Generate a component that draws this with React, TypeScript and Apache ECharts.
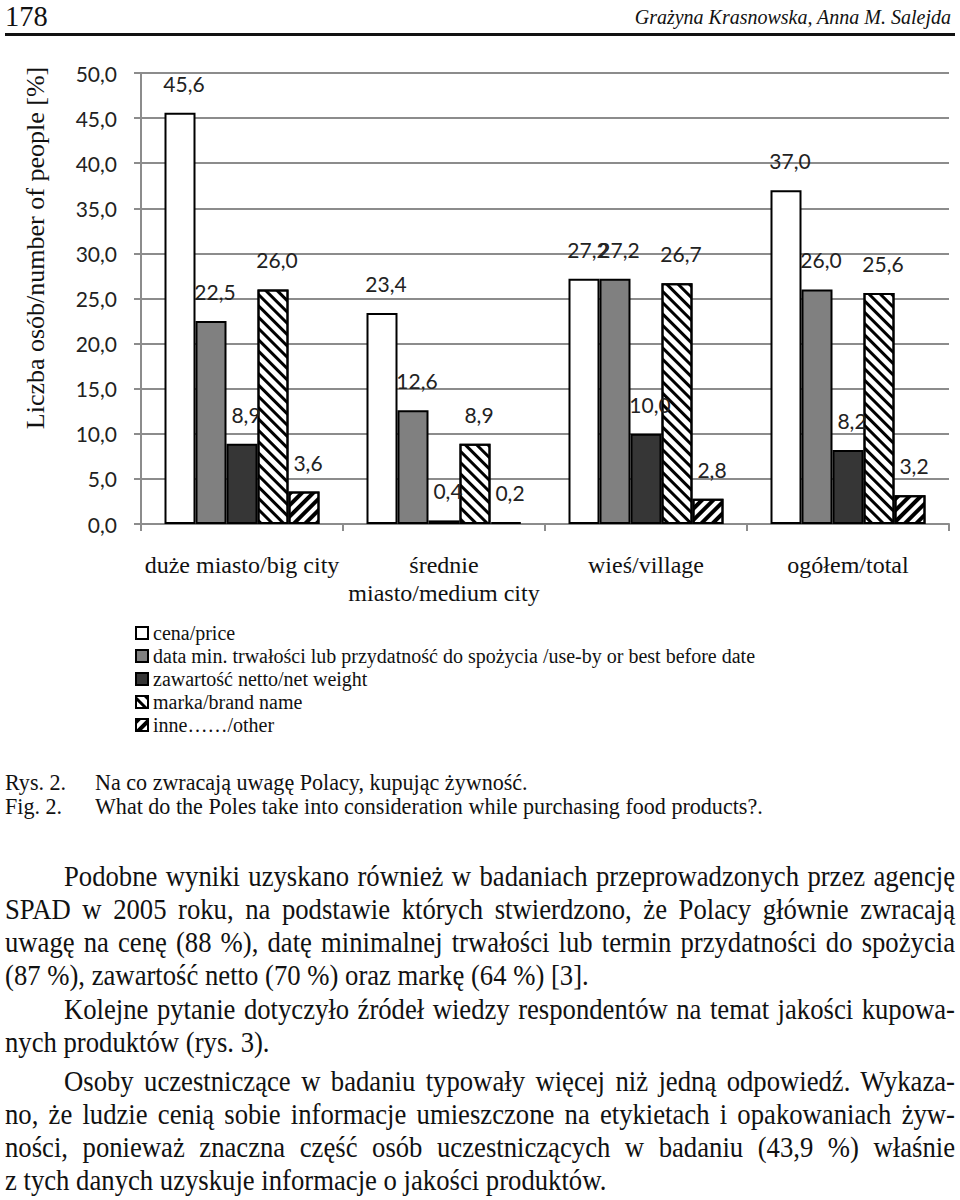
import React, { useEffect, useRef } from 'react';
import * as echarts from 'echarts';

// chart data
const categories = ['duże miasto/big city', 'średnie\nmiasto/medium city', 'wieś/village', 'ogółem/total'];
const seriesNames = [
  'cena/price',
  'data min. trwałości lub przydatność do spożycia /use-by or best before date',
  'zawartość netto/net weight',
  'marka/brand name',
  'inne……/other',
];
const cena = [45.6, 23.4, 27.2, 37.0];
const dataMin = [22.5, 12.6, 27.2, 26.0];
const zawartosc = [8.9, 0.4, 10.0, 8.2];
const marka = [26.0, 8.9, 26.7, 25.6];
const inne = [3.6, 0.2, 2.8, 3.2];
const yMin = 0;
const yMax = 50;
const yStep = 5;
const yTitle = 'Liczba osób/number of people [%]';

// page text
const pageNumber = '178';
const authors = 'Grażyna Krasnowska, Anna M. Salejda';
const captions = [
  { label: 'Rys. 2.', text: 'Na co zwracają uwagę Polacy, kupując żywność.', top: 770 },
  { label: 'Fig. 2.', text: 'What do the Poles take into consideration while purchasing food products?.', top: 794 },
];
const bodyLines = [
  { text: 'Podobne wyniki uzyskano również w badaniach przeprowadzonych przez agencję', indent: true, last: false, top: 860 },
  { text: 'SPAD w 2005 roku, na podstawie których stwierdzono, że Polacy głównie zwracają', indent: false, last: false, top: 893 },
  { text: 'uwagę na cenę (88 %), datę minimalnej trwałości lub termin przydatności do spożycia', indent: false, last: false, top: 926 },
  { text: '(87 %), zawartość netto (70 %) oraz markę (64 %) [3].', indent: false, last: true, top: 959 },
  { text: 'Kolejne pytanie dotyczyło źródeł wiedzy respondentów na temat jakości kupowa-', indent: true, last: false, top: 993 },
  { text: 'nych produktów (rys. 3).', indent: false, last: true, top: 1026 },
  { text: 'Osoby uczestniczące w badaniu typowały więcej niż jedną odpowiedź. Wykaza-', indent: true, last: false, top: 1065 },
  { text: 'no, że ludzie cenią sobie informacje umieszczone na etykietach i opakowaniach żyw-', indent: false, last: false, top: 1098 },
  { text: 'ności, ponieważ znaczna część osób uczestniczących w badaniu (43,9 %) właśnie', indent: false, last: false, top: 1131 },
  { text: 'z tych danych uzyskuje informacje o jakości produktów.', indent: false, last: true, top: 1164 },
];

const fmt = (v: number) => v.toFixed(1).replace('.', ',');
const SERIF = "'Liberation Serif', 'Times New Roman', serif";
const SANS = 'Lato';

const Chart: React.FC = () => {
  const ref = useRef<HTMLDivElement>(null);

  useEffect(() => {
    if (!ref.current) return;
    const chart = echarts.init(ref.current, undefined, { renderer: 'svg' });

    const border = { borderColor: '#000', borderWidth: 2 };
    const styles: any[] = [
      { color: '#ffffff', ...border },
      { color: '#808080', ...border },
      { color: '#363636', ...border },
      {
        color: '#ffffff', ...border,
        decal: { symbol: 'rect', symbolSize: 1, color: '#000', dashArrayX: [1, 0], dashArrayY: [3, 5], rotation: Math.PI / 4 },
      },
      {
        color: '#ffffff', ...border,
        decal: { symbol: 'rect', symbolSize: 1, color: '#000', dashArrayX: [1, 0], dashArrayY: [4, 4], rotation: -Math.PI / 4 },
      },
    ];
    const values = [cena, dataMin, zawartosc, marka, inne];

    const option: any = {
      animation: false,
      grid: { left: 141, top: 73, width: 808, height: 451 },
      legend: {
        orient: 'vertical',
        left: 135,
        top: 623,
        padding: 0,
        itemWidth: 12,
        itemHeight: 12,
        itemGap: 3,
        icon: 'rect',
        data: seriesNames,
        textStyle: { fontFamily: SERIF, fontSize: 20, lineHeight: 20, color: '#111' },
      },
      xAxis: {
        type: 'category',
        data: categories,
        axisLine: { lineStyle: { color: '#8c8c8c', width: 2 } },
        axisTick: { show: true, length: 7, lineStyle: { color: '#8c8c8c', width: 2 } },
        axisLabel: { interval: 0, margin: 27, fontFamily: SERIF, fontSize: 24, lineHeight: 28, color: '#111' },
      },
      yAxis: {
        type: 'value',
        min: yMin,
        max: yMax,
        interval: yStep,
        axisLine: { show: true, lineStyle: { color: '#8c8c8c', width: 2 } },
        axisTick: { show: true, length: 7, lineStyle: { color: '#8c8c8c', width: 2 } },
        splitLine: { lineStyle: { color: '#8c8c8c', width: 2 } },
        axisLabel: { margin: 24, formatter: (v: number) => fmt(v), fontFamily: SANS, fontSize: 21, color: '#222' },
      },
      graphic: [
        {
          type: 'text',
          x: 35,
          y: 248,
          rotation: Math.PI / 2,
          style: { text: yTitle, fontFamily: SERIF, fontSize: 26, textAlign: 'center', textVerticalAlign: 'middle', fill: '#111' },
        },
      ],
      series: seriesNames.map((name, i) => ({
        name,
        type: 'bar',
        data: values[i],
        barWidth: 31,
        barGap: '0%',
        itemStyle: styles[i],
        label: {
          show: true,
          position: 'top',
          distance: 19,
          offset: [4, 0],
          formatter: (p: any) => fmt(p.value),
          fontFamily: SANS,
          fontSize: 21,
          color: '#222',
        },
      })),
    };

    chart.setOption(option);
    return () => chart.dispose();
  }, []);

  return <div ref={ref} style={{ position: 'absolute', left: 0, top: 0, width: 960, height: 760 }} />;
};

const App: React.FC = () => {
  const scaled = (scale: number): React.CSSProperties => ({
    transform: `scaleX(${scale})`,
    transformOrigin: 'left top',
    whiteSpace: 'nowrap',
  });
  const bodyScale = 0.92;
  return (
    <div style={{ position: 'absolute', left: 0, top: 0, width: 960, height: 1200, background: '#fff', overflow: 'hidden', fontFamily: '"Liberation Serif", serif', color: '#111' }}>
      <Chart />
      <div style={{ position: 'absolute', left: 5, top: -2, fontSize: 30, lineHeight: '36px', ...scaled(0.95) }}>{pageNumber}</div>
      <div style={{ position: 'absolute', right: 9, top: 5, fontSize: 20, lineHeight: '24px', fontStyle: 'italic', whiteSpace: 'nowrap' }}>{authors}</div>
      <div style={{ position: 'absolute', left: 5, top: 33, width: 950, height: 3, background: '#111' }} />
      {captions.map((c) => (
        <React.Fragment key={c.label}>
          <div style={{ position: 'absolute', left: 5, top: c.top, fontSize: 23, lineHeight: '26px', ...scaled(0.96) }}>{c.label}</div>
          <div style={{ position: 'absolute', left: 95, top: c.top, fontSize: 23, lineHeight: '26px', ...scaled(0.96) }}>{c.text}</div>
        </React.Fragment>
      ))}
      {bodyLines.map((l, i) => {
        const left = l.indent ? 64 : 5;
        const width = 955 - left;
        return (
          <div
            key={i}
            style={{
              position: 'absolute',
              left,
              top: l.top,
              width: width / bodyScale,
              fontSize: 29,
              lineHeight: '33px',
              textAlign: 'justify',
              textAlignLast: l.last ? 'left' : 'justify',
              ...scaled(bodyScale),
            }}
          >
            {l.text}
          </div>
        );
      })}
    </div>
  );
};

export default App;
